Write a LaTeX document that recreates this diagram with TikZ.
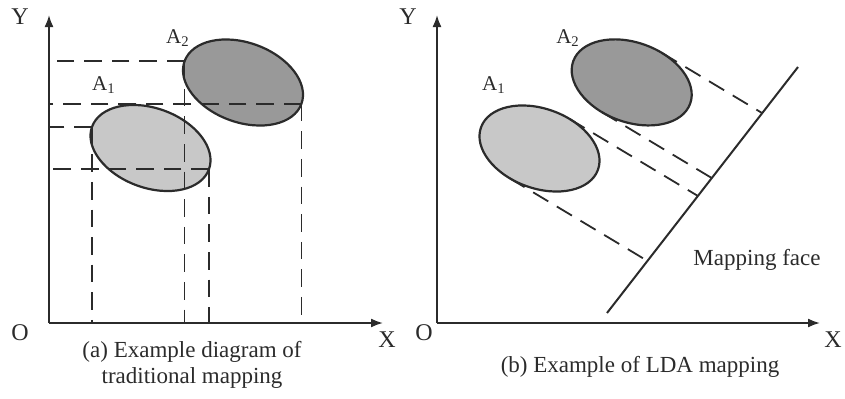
\documentclass[tikz,border=0pt]{standalone}
\usepackage{fontspec}
\setmainfont{Liberation Serif}
\usetikzlibrary{arrows.meta,shapes.geometric,calc}
\definecolor{ink}{HTML}{2B2B2B}
\definecolor{lightBlob}{HTML}{C8C8C8}
\definecolor{darkBlob}{HTML}{999999}
\tikzset{
  axis/.style={line width=0.9pt, draw=ink, -{Latex[length=6pt,width=4.5pt]}},
  blob/.style={ellipse, draw=ink, line width=1.1pt, minimum width=62.2pt,
               minimum height=39.8pt, inner sep=0pt, outer sep=0pt, rotate=-20},
  proj/.style={line width=0.9pt, draw=ink, dash pattern=on 8.8pt off 5pt},
  face/.style={line width=1pt, draw=ink},
  axlabel/.style={font=\fontsize{12}{14}\selectfont, text=ink, inner sep=0pt},
  setlabel/.style={font=\fontsize{10.5}{12}\selectfont, text=ink, inner sep=0pt},
  caption/.style={font=\fontsize{11.5}{13}\selectfont, text=ink, align=center, inner sep=0pt}
}
\begin{document}
\begin{tikzpicture}[x=0.5pt, y=0.5pt]
\useasboundingbox (0,0) rectangle (845,398);

% (a) traditional mapping
\coordinate (oa) at (49,75);
\draw[axis] (oa) -- (49,383);
\draw[axis] (oa) -- (383,75);
\node[axlabel] (ya) at (20,381) {Y};
\node[axlabel] (xa) at (387,58) {X};
\node[axlabel] (ooa) at (20,65) {O};
\node[blob, fill=lightBlob] (la1) at (150.5,250) {};
\node[blob, fill=darkBlob] (la2) at (243,315.5) {};
\node[setlabel] (ta1) at (104,313) {A\textsubscript{1}};
\node[setlabel] (ta2) at (178,360) {A\textsubscript{2}};
\foreach \p in {la1.west,la1.east,la2.west,la2.east} {
  \draw[proj] (\p) -- (\p -| oa);
  \draw[proj] (\p) -- (\p |- oa);
}
\node[caption] (capa) at (192,33) {(a) Example diagram of\\traditional mapping};

% (b) LDA mapping
\coordinate (ob) at (437,75);
\draw[axis] (ob) -- (437,383);
\draw[axis] (ob) -- (820,75);
\node[axlabel] (yb) at (408,381) {Y};
\node[axlabel] (xb) at (833,58) {X};
\node[axlabel] (oob) at (424,65) {O};
\node[blob, fill=lightBlob] (lb1) at (539.5,249.5) {};
\node[blob, fill=darkBlob] (lb2) at (631.7,315.6) {};
\node[setlabel] (tb1) at (494,313) {A\textsubscript{1}};
\node[setlabel] (tb2) at (568,360) {A\textsubscript{2}};
\coordinate (fa) at (607,85);
\coordinate (fb) at (798,331);
\draw[face] (fa) -- (fb);
\coordinate (b2n) at ($(lb2.center)+(30,29.6)$);
\coordinate (b2s) at ($(lb2.center)+(-30,-29.6)$);
\coordinate (b1n) at ($(lb1.center)+(30,29.6)$);
\coordinate (b1s) at ($(lb1.center)+(-30,-29.6)$);
\foreach \p in {b2n,b2s,b1n,b1s} {
  \coordinate (\p d) at ($(\p)+(-31:40)$);
  \draw[proj] (\p) -- (intersection of \p--\p d and fa--fb);
}
\node[axlabel, font=\fontsize{11.5}{13}\selectfont] (mf) at (757,138) {Mapping face};
\node[caption] (capb) at (640,31) {(b) Example of LDA mapping};
\end{tikzpicture}
\end{document}
